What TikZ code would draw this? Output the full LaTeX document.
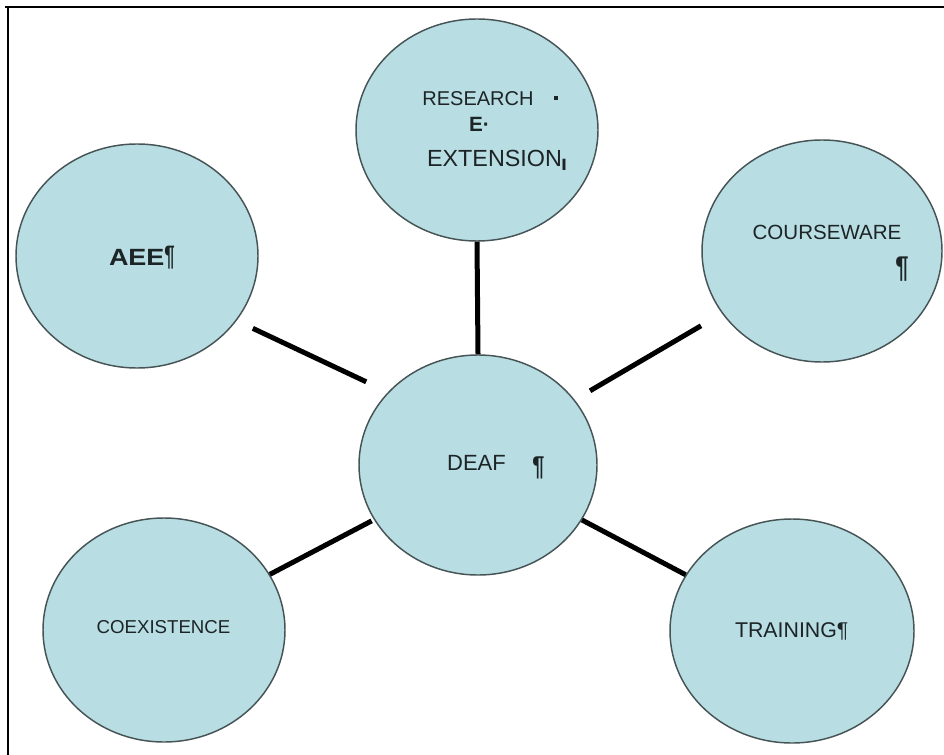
\documentclass[tikz,border=0pt]{standalone}
\usepackage{graphicx}
\usepackage{fontspec}
\setmainfont{Liberation Sans}
\usetikzlibrary{shapes.geometric}
\definecolor{bubblefill}{RGB}{184,221,227}
\definecolor{rim}{RGB}{70,84,86}
\definecolor{ink}{RGB}{28,36,38}
\begin{document}
\begin{tikzpicture}[x=0.75pt,y=-0.75pt,
  bubble/.style={ellipse, draw=rim, line width=1.1pt, fill=bubblefill, inner sep=0pt},
  link/.style={line width=3.75pt, draw=black},
  lbl/.style={inner sep=0pt, outer sep=0pt, text=ink},
  frameline/.style={line width=1.5pt, draw=black}
]
\useasboundingbox (0,0) rectangle (944,755);

% page frame (top and left rules)
\draw[frameline] (5,7) -- (944,7);
\draw[frameline] (8,7) -- (8,755);

% bubbles
\node[bubble, minimum width=181.5pt, minimum height=166.5pt] (res)  at (477,130) {};
\node[bubble, minimum width=181.5pt, minimum height=168pt]   (aee)  at (137,256) {};
\node[bubble, minimum width=180pt,   minimum height=166.5pt] (crs)  at (822,251) {};
\node[bubble, minimum width=178.5pt, minimum height=165pt]   (deaf) at (478,465) {};
\node[bubble, minimum width=181.5pt, minimum height=168pt]   (coex) at (164,630) {};
\node[bubble, minimum width=183pt,   minimum height=168pt]   (trn)  at (792,631) {};

% spokes
\draw[link] (res.south) -- (deaf.north);
\draw[link, shorten <=13.4pt, shorten >=18pt] (aee.-33) -- (deaf.141);
\draw[link, shorten <=13.3pt, shorten >=18.2pt] (deaf.34) -- (crs.212);
\draw[link, shorten >=1.9pt] (coex) -- (deaf);
\draw[link] (deaf) -- (trn);

% labels
\node[lbl, anchor=base, font=\fontsize{15}{18}\selectfont] (tres) at (478,106) {RESEARCH};
\node[fill=ink, minimum size=3pt, inner sep=0pt] (dres) at (555.5,98.5) {};
\node[lbl, anchor=base west, font=\bfseries\fontsize{15.5}{18}\selectfont] (tE) at (469,132) {E·};
\node[lbl, anchor=base, font=\fontsize{17.5}{20}\selectfont] (text) at (494.5,167) {EXTENSION};
\node[lbl, anchor=base west, font=\bfseries\fontsize{16}{18}\selectfont] (tbar) at (561,171) {ı};

\node[lbl, anchor=base west, font=\bfseries\fontsize{17.6}{20}\selectfont] (taee) at (109,266)
  {\scalebox{1.15}[1]{AEE}\scalebox{0.8}[1.2]{¶}};

\node[lbl, anchor=base, font=\fontsize{15.4}{18}\selectfont] (tcrs) at (827,240) {COURSEWARE};
\node[lbl, font=\bfseries\fontsize{22.5}{24}\selectfont] (pcrs) at (902,269) {\scalebox{0.8}[1]{¶}};

\node[lbl, anchor=base, font=\fontsize{16.5}{19}\selectfont] (tdeaf) at (476.5,470) {DEAF};
\node[lbl, font=\bfseries\fontsize{20.4}{23}\selectfont] (pdeaf) at (538.5,467.5) {\scalebox{0.8}[1]{¶}};

\node[lbl, anchor=base, font=\fontsize{14}{17}\selectfont] (tcoex) at (163.5,633) {COEXISTENCE};
\node[lbl, anchor=base west, font=\fontsize{16}{19}\selectfont] (ttrn) at (735,637) {TRAINING¶};
\end{tikzpicture}
\end{document}
